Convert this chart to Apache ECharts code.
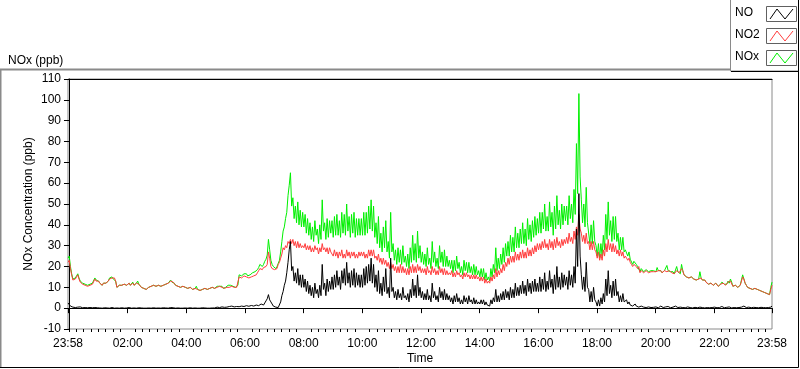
<!DOCTYPE html>
<html>
<head>
<meta charset="utf-8">
<script src="https://cdn.jsdelivr.net/npm/echarts@6/dist/echarts.min.js"></script>
<style>
  html, body { margin: 0; padding: 0; background: #fff; }
  #chart { width: 800px; height: 369px; }
</style>
</head>
<body>
<div id="chart"></div>
<script>
// samples every 2.5 minutes, first one at 23:58 (-2 min), last at 23:58 next day
// one row per hour
const START_MIN = -2;
const STEP_MIN = 2.5;

// NO (ppb)
const no = [
  2.5, 3, 1, 0.7, 0.5, 0.3, 0.3, 0.4, 0.5, 0.6, 0.6, 0.3, 0.2, 0.3, 0.3, 0.2, 0.2, 0.3, 0.3, 0.2, 0.2, 0.3, 0.3, 0.2,
  0.2, 0.1, 0.1, 0, 0, 0.2, 0.2, 0.1, 0.1, 0, 0, 0.3, 0.3, 0, 0, 0.1, 0.1, 0, 0, 0.2, 0.2, 0, 0, 0.1,
  0.1, 0.3, 0.3, 0, 0, 0.1, 0.1, 0, 0, 0.2, 0.2, 0.1, 0.1, 0, 0, 0, 0, 0.1, 0.1, 0, 0, 0.2, 0.2, 0,
  0, 0.1, 0.1, 0, 0, 0.2, 0.2, 0.1, 0.1, 0, 0, 0.3, 0.3, 0.2, 0.2, 0, 0, 0.1, 0.1, 0, 0, 0, 0, 0.1,
  0.1, 0, 0, 0.2, 0.2, 0, 0, 0.1, 0.1, 0, 0, 0, 0, 0.2, 0.2, 0.1, 0.1, 0, 0, 0, 0, 0.1, 0.1, 0,
  0.1, 0.3, 0.5, 0.4, 0.3, 0.5, 0.6, 0.5, 0.4, 0.4, 0.5, 0.6, 0.8, 0.9, 1.0, 0.8, 0.6, 0.7, 0.8, 0.7, 0.7, 0.9, 1.0, 0.9,
  0.8, 1.0, 1.2, 1.0, 0.9, 1.1, 1.3, 1.2, 1.0, 1.3, 1.5, 1.3, 1.2, 1.6, 2.0, 1.7, 1.5, 2.5, 3.5, 4.5, 6.5, 4, 3, 2,
  1, 1.5, 0.5, 0.8, 0.3, 1, 3, 6, 8, 11, 13, 17, 22, 28, 32, 18, 20, 13, 17, 12, 19, 11, 16, 10,
  16, 10, 14, 8, 13, 7, 11, 6, 10, 5, 12, 7, 9, 5, 11, 6, 21, 9, 12, 6, 14, 8, 13, 9,
  15, 9, 16, 10, 18, 11, 15, 9, 18, 12, 19, 11, 22, 12, 17, 10, 18, 11, 19, 10, 17, 11, 16, 10,
  16, 10, 19, 11, 20, 12, 21, 13, 24, 12, 21, 10, 16, 8, 18, 7, 12, 6, 15, 8, 19, 7, 10, 5,
  24, 8, 10, 5, 8, 4, 9, 5, 7, 4, 10, 5, 6, 4, 7, 3, 9, 5, 14, 6, 11, 5, 16, 6,
  10, 5, 8, 4, 7, 4, 9, 4, 6, 3, 12, 5, 8, 4, 6, 3, 10, 5, 8, 4, 9, 4, 7, 4,
  6, 3, 5, 2, 6, 3, 7, 3, 5, 2, 4, 2, 6, 3, 5, 2, 6, 3, 4, 2, 5, 2, 4, 2,
  3, 2, 4, 2, 4, 1.5, 3, 1.5, 2, 1, 4, 2, 5, 3, 9, 3, 6, 3, 7, 4, 8, 4, 9, 5,
  8, 4, 10, 5, 9, 5, 12, 6, 10, 6, 11, 7, 13, 7, 11, 6, 14, 8, 12, 7, 13, 8, 14, 8,
  12, 8, 15, 8, 14, 9, 17, 8, 13, 9, 18, 10, 14, 7, 16, 9, 20, 10, 15, 9, 17, 10, 16, 11,
  15, 9, 18, 11, 16, 10, 20, 12, 38, 20, 55, 25, 16, 9, 15, 8, 22, 10, 9, 3, 8, 3, 10, 4,
  3, 1, 4, 1, 5, 2, 7, 3, 14, 6, 18, 7, 11, 5, 13, 6, 14, 6, 8, 3, 6, 3, 7, 3,
  3, 4, 2, 3, 1.5, 2, 1, 1.5, 2, 1, 1, 0.5, 0.5, 1, 0.8, 0.5, 0.5, 0.3, 0.3, 0.6, 0.5, 0.3, 0.3, 0.4,
  0.4, 0.6, 0.6, 0.2, 0.2, 1, 1, 0.3, 0.3, 0.6, 0.6, 0.8, 0.8, 0.2, 0.2, 0.5, 0.5, 1.0, 1.0, 0.3, 0.3, 0.5, 0.5, 0.3,
  0.3, 0.2, 0.2, 0.6, 0.6, 0.3, 0.3, 0.1, 0.1, 0.4, 0.4, 0.2, 0.2, 0.5, 0.5, 0.3, 0.3, 0.1, 0.1, 0.3, 0.3, 0.2, 0.2, 0.3,
  0.2, 0.5, 0.5, 0.2, 0.2, 0.3, 0.3, 0.8, 0.8, 0.2, 0.2, 0.4, 0.4, 0.6, 0.6, 0.1, 0.1, 0.3, 0.3, 0.2, 0.2, 0.3, 0.3, 0.5,
  0.5, 1, 1, 0.3, 0.3, 0.5, 0.5, 0.2, 0.2, 0.4, 0.4, 0.3, 0.3, 0.2, 0.2, 0.4, 0.4, 0.3, 0.3, 0.2, 0.2, 0.3, 0.3, 0.5, 1
];

// NO2 (ppb)
const no2 = [
  22, 23, 19, 16, 13.5, 13, 14, 15, 16, 14, 12.5, 12, 11.5, 12, 11, 11.5, 10.5, 11, 11, 11.5, 11.5, 12, 14, 13,
  13.5, 13, 12, 11.5, 11, 12, 12.5, 12, 11.5, 13, 14, 14.5, 14.5, 14, 14.5, 13, 10, 10.5, 11, 11.5, 11, 10.5, 11.5, 11,
  11, 11.5, 12, 11, 11.5, 12, 11, 11.5, 12, 12.5, 11.5, 11, 10, 10.5, 9.5, 10, 9, 9.5, 10, 10.5, 10.5, 11, 11, 10.5,
  10.5, 11, 11, 10.5, 10.5, 11, 11, 11.5, 11.5, 12, 12, 12.5, 13, 12.5, 12.5, 12, 11, 11.5, 10.5, 11, 10, 10.5, 10.5, 10,
  10, 10.5, 9.5, 10, 10, 9.5, 9, 9.5, 9.5, 10, 9, 9.5, 8.5, 9, 9, 8.5, 9.5, 9, 9, 9.5, 9.5, 10, 10, 9.5,
  9.5, 10, 10, 10.5, 10.5, 10, 10, 9.5, 9.5, 10, 10, 10.5, 10, 10.5, 10.5, 10, 10, 9.5, 10, 10.5, 15, 15.5, 14.5, 15,
  15.5, 15, 15, 14.5, 14.5, 15, 15, 15.5, 15.5, 16, 16, 17, 18, 19, 19, 18.5, 19.5, 20, 20, 21, 27, 24, 20, 19,
  19, 18.5, 18.5, 19, 21, 22, 24, 26, 29, 28, 30, 29, 32, 31, 33, 31, 33, 30, 32, 29, 32, 29, 31, 29,
  30, 29, 31, 28, 30, 28, 30, 27, 29, 27, 30, 28, 29, 26, 29, 27, 31, 28, 29, 27, 29, 26, 29, 27,
  27, 25, 28, 25, 27, 24, 27, 25, 28, 24, 26, 24, 28, 25, 27, 24, 27, 25, 27, 24, 26, 24, 27, 25,
  27, 25, 27, 24, 26, 24, 28, 25, 28, 25, 28, 24, 25, 23, 26, 22, 24, 21, 24, 21, 23, 20, 22, 19,
  22, 19, 21, 18, 20, 17, 20, 17, 21, 17, 20, 17, 19, 16, 19, 16, 20, 17, 21, 17, 20, 17, 21, 18,
  20, 17, 19, 17, 19, 16, 20, 17, 18, 16, 20, 17, 19, 16, 18, 16, 20, 17, 19, 16, 19, 16, 18, 16,
  17, 16, 18, 15, 17, 15, 18, 16, 17, 15, 16, 14, 17, 15, 17, 15, 16, 14, 16, 14, 16, 14, 16, 14,
  15, 13, 15, 13, 15, 12, 14, 12, 13, 12, 15, 13, 16, 14, 19, 15, 18, 16, 19, 17, 21, 18, 22, 20,
  24, 21, 25, 22, 25, 22, 27, 23, 26, 23, 27, 24, 28, 24, 27, 24, 29, 25, 28, 25, 29, 26, 30, 27,
  31, 28, 31, 28, 32, 29, 33, 29, 31, 28, 33, 29, 32, 28, 33, 29, 34, 30, 32, 29, 33, 30, 33, 31,
  34, 31, 36, 32, 34, 31, 37, 33, 39, 35, 45, 38, 36, 32, 35, 31, 36, 31, 32, 28, 32, 28, 32, 28,
  27, 24, 27, 23, 26, 23, 28, 25, 31, 27, 33, 28, 31, 27, 31, 27, 30, 26, 28, 25, 28, 25, 27, 24,
  25, 24, 23, 24, 22, 21, 20, 21, 21, 20, 19, 20, 17, 18, 18, 17, 17.5, 18, 18, 17, 17, 17.5, 18, 17.5,
  18, 17.5, 17.5, 18, 18.5, 18, 17, 17.5, 18, 17.5, 17.5, 18, 18, 17.5, 17, 17.5, 16.5, 17, 18, 17.5, 17, 16.5, 19, 18,
  16, 16.5, 15, 15.5, 14.5, 15, 15, 14.5, 14, 14.5, 13.5, 14, 14, 14.5, 14.5, 13.5, 13, 13.5, 12.5, 12, 11.5, 12, 12, 11.5,
  11, 11.5, 12, 11.5, 10.5, 11, 11.5, 12, 12, 11.5, 11, 11.5, 12.5, 12, 13, 12.5, 10.5, 11, 11, 10.5, 10, 10.5, 11, 11.5,
  15, 14, 12, 11, 10, 10.5, 9.5, 10, 9, 9.5, 9.5, 9, 9, 8.5, 8.5, 8, 8, 7.5, 7.5, 7, 7, 6.5, 6.5, 9, 11
];

// NOx (ppb)
const nox = [
  24, 25, 20, 16.5, 14, 13.5, 14.5, 15.5, 16.5, 14.5, 13, 12.5, 12, 12.5, 11.5, 12, 11, 11.5, 11.5, 12, 12, 12.5, 14.5, 13.5,
  13.5, 13, 12, 11.5, 11, 12, 12.5, 12, 11.5, 13, 14.5, 14.5, 15, 14, 14.5, 13, 10, 10.5, 11, 11.5, 11, 10.5, 11.5, 11,
  11, 11.5, 12, 11, 11.5, 12.5, 11, 11.5, 12, 13, 11.5, 11, 10, 10.5, 9.5, 10, 9, 9.5, 10, 10.5, 10.5, 11, 11, 10.5,
  10.5, 11, 11, 10.5, 10.5, 11, 11, 11.5, 11.5, 12, 12, 12.5, 13.5, 12.5, 12.5, 12, 11, 11.5, 10.5, 11, 10, 10.5, 10.5, 10,
  10, 10.5, 9.5, 10, 10, 9.5, 9, 9.5, 9.5, 10.5, 9, 9.5, 8.5, 9, 9, 8.5, 9.5, 9, 9, 9.5, 9.5, 10, 10, 9.5,
  9.5, 10, 10.5, 10.5, 10.5, 10, 10.5, 9.5, 9.5, 10, 10.5, 11, 10.5, 11, 11.5, 10.5, 10.5, 10, 10.5, 11, 16, 16, 15.5, 16,
  16.5, 16, 16.5, 15.5, 15.5, 16, 16.5, 17, 16.5, 17.5, 17.5, 18.5, 19.5, 21, 21, 20, 21, 22.5, 23.5, 25.5, 33, 28, 23, 21,
  20, 20, 19, 20, 21.5, 23, 27, 32, 37, 39, 43, 46, 54, 59, 65, 49, 53, 43, 49, 41, 51, 40, 47, 39,
  46, 39, 45, 36, 43, 35, 41, 33, 39, 32, 42, 35, 38, 31, 40, 33, 52, 37, 41, 33, 43, 34, 42, 36,
  42, 34, 44, 35, 45, 35, 42, 34, 46, 36, 45, 35, 50, 37, 44, 34, 45, 36, 46, 34, 43, 35, 43, 35,
  43, 35, 46, 35, 46, 36, 49, 38, 52, 37, 49, 34, 41, 31, 44, 29, 36, 27, 39, 29, 42, 27, 32, 24,
  46, 27, 31, 23, 28, 21, 29, 22, 28, 21, 30, 22, 25, 20, 26, 19, 29, 22, 35, 23, 31, 22, 37, 24,
  30, 22, 27, 21, 26, 20, 29, 21, 24, 19, 32, 22, 27, 20, 24, 19, 30, 22, 27, 20, 28, 20, 25, 20,
  23, 19, 23, 17, 23, 18, 25, 19, 22, 17, 20, 16, 23, 18, 22, 17, 22, 17, 20, 16, 21, 16, 20, 16,
  18, 15, 19, 15, 19, 13.5, 17, 13.5, 15, 13, 19, 15, 21, 17, 29, 18, 24, 19, 26, 21, 29, 22, 31, 25,
  32, 25, 35, 27, 34, 27, 39, 29, 36, 29, 38, 31, 41, 31, 38, 30, 43, 33, 40, 32, 42, 34, 44, 35,
  43, 36, 46, 36, 46, 38, 50, 37, 44, 37, 51, 39, 46, 35, 49, 38, 54, 40, 47, 38, 50, 40, 49, 42,
  49, 40, 54, 43, 50, 41, 57, 45, 79, 55, 103, 63, 52, 41, 50, 39, 58, 41, 41, 31, 40, 31, 42, 32,
  30, 25, 31, 24, 31, 25, 35, 28, 45, 33, 51, 35, 42, 32, 44, 33, 44, 32, 36, 28, 34, 28, 34, 27,
  28, 28, 25, 27, 23.5, 23, 21, 22.5, 23, 21, 20, 20.5, 17.5, 19, 19, 17.5, 18, 18.5, 18.5, 17.5, 17.5, 18, 18.5, 18,
  18, 17.5, 19.5, 18, 18.5, 18, 17, 17.5, 18, 17.5, 20.5, 18, 18, 17.5, 17, 17.5, 16.5, 17, 20, 17.5, 17, 16.5, 21, 18,
  16, 16.5, 15, 15.5, 14.5, 15, 15, 14.5, 14, 14.5, 13.5, 14, 14, 17.5, 14.5, 13.5, 13, 13.5, 12.5, 12, 11.5, 12, 12, 11.5,
  11, 11.5, 12, 11.5, 10.5, 11, 11.5, 12.5, 12, 11.5, 11, 11.5, 13, 12, 14, 12.5, 10.5, 11, 11, 10.5, 10, 10.5, 11, 11.5,
  16, 14, 12, 11, 10, 10.5, 9.5, 10, 9, 9.5, 9.5, 9, 9, 8.5, 8.5, 8, 8, 7.5, 7.5, 7, 7, 6.5, 6.5, 10, 12.5
];

// labelled ticks on the time axis (minutes from midnight)
const majorTicks = [-2, 120, 240, 360, 480, 600, 720, 840, 960, 1080, 1200, 1320, 1438];
const minorTicks = Array.from({ length: 96 }, (_, k) => k * 15).filter(m => m % 120 !== 0 || m === 0);

const seriesNames = ['NO', 'NO2', 'NOx'];
const seriesColors = ['#000000', '#ff3c3c', '#00f000'];

const FONT = 'Liberation Sans';
const pairs = arr => arr.map((v, i) => [START_MIN + i * STEP_MIN, v]);
const fmtTime = m => {
  const t = ((m % 1440) + 1440) % 1440;
  return String(Math.floor(t / 60)).padStart(2, '0') + ':' + String(t % 60).padStart(2, '0');
};

const chart = echarts.init(document.getElementById('chart'));

// legend box, drawn the way the instrument panel shows it
const legendItems = seriesNames.map((name, i) => {
  const y0 = 6 + i * 22;
  return [
    { type: 'text', left: 735, top: y0 + 1, style: { text: name, font: `12px ${FONT}`, fill: '#000' } },
    { type: 'rect', shape: { x: 766.5, y: y0 + 0.5, width: 30, height: 15 },
      style: { fill: '#fff', stroke: '#606060', lineWidth: 1 } },
    { type: 'polyline', shape: { points: [[770, y0 + 13], [777, y0 + 3], [785, y0 + 13], [793, y0 + 3]] },
      style: { stroke: seriesColors[i], fill: null, lineWidth: 1 } },
  ];
}).flat();

chart.setOption({
  animation: false,
  backgroundColor: '#fff',
  textStyle: { fontFamily: FONT },
  title: {
    text: 'NOx (ppb)', left: 3, top: 50,
    textStyle: { fontSize: 12, fontWeight: 'normal', color: '#000', fontFamily: FONT },
  },
  grid: {
    left: 68, right: 28, top: 79, bottom: 40,
    outerBoundsMode: 'none', containLabel: false,
    show: true, borderColor: '#8a8a8a', borderWidth: 1,
  },
  xAxis: [
    {
      type: 'value', min: -2, max: 1438, position: 'bottom',
      name: 'Time', nameLocation: 'middle', nameGap: 24, nameMoveOverlap: false,
      nameTextStyle: { color: '#000', fontSize: 12, fontFamily: FONT },
      axisLine: { lineStyle: { color: '#000', width: 1 } },
      axisTick: { customValues: majorTicks, length: 5, lineStyle: { color: '#000', width: 1 } },
      axisLabel: { customValues: majorTicks, formatter: fmtTime, color: '#000', fontSize: 12, margin: 9, fontFamily: FONT },
      splitLine: { show: false },
    },
    {
      type: 'value', min: -2, max: 1438, position: 'bottom',
      axisLine: { show: false },
      axisTick: { customValues: minorTicks, length: 3, lineStyle: { color: '#000', width: 1 } },
      axisLabel: { show: false },
      splitLine: { show: false },
    },
    {
      type: 'value', min: -2, max: 1438, position: 'top',
      axisLine: { lineStyle: { color: '#000', width: 1 } },
      axisTick: { show: false }, axisLabel: { show: false }, splitLine: { show: false },
    },
  ],
  yAxis: {
    type: 'value', min: -10, max: 110, interval: 10,
    name: 'NOx Concentration (ppb)', nameLocation: 'middle', nameGap: 33, nameRotate: 90, nameMoveOverlap: false,
    nameTextStyle: { color: '#000', fontSize: 12, fontFamily: FONT },
    axisLine: { show: true, lineStyle: { color: '#000', width: 1 } },
    axisTick: { show: true, length: 5, lineStyle: { color: '#000' } },
    axisLabel: { color: '#000', fontSize: 12, margin: 7, fontFamily: FONT },
    splitLine: { show: false },
  },
  series: [
    { name: 'NOx', type: 'line', data: pairs(nox), showSymbol: false, lineStyle: { color: seriesColors[2], width: 1 }, itemStyle: { color: seriesColors[2] } },
    { name: 'NO2', type: 'line', data: pairs(no2), showSymbol: false, lineStyle: { color: seriesColors[1], width: 1 }, itemStyle: { color: seriesColors[1] } },
    { name: 'NO', type: 'line', data: pairs(no), showSymbol: false, lineStyle: { color: seriesColors[0], width: 1 }, itemStyle: { color: seriesColors[0] } },
  ],
  graphic: [
    // outer panel frame
    { type: 'polyline', shape: { points: [[0.5, 368], [0.5, 69.5], [731, 69.5]] }, style: { stroke: '#8a8a8a', fill: null, lineWidth: 2 } },
    { type: 'polyline', shape: { points: [[0, 367.5], [798.5, 367.5], [798.5, 70]] }, style: { stroke: '#000', fill: null, lineWidth: 1 } },
    // legend frame
    { type: 'rect', shape: { x: 730.5, y: -1, width: 68, height: 72 }, style: { fill: '#fff', stroke: '#8a8a8a', lineWidth: 1 } },
    { type: 'polyline', shape: { points: [[731, 71.5], [798.5, 71.5], [798.5, 0]] }, style: { stroke: '#000', fill: null, lineWidth: 1 } },
    ...legendItems,
  ],
});
</script>
</body>
</html>
